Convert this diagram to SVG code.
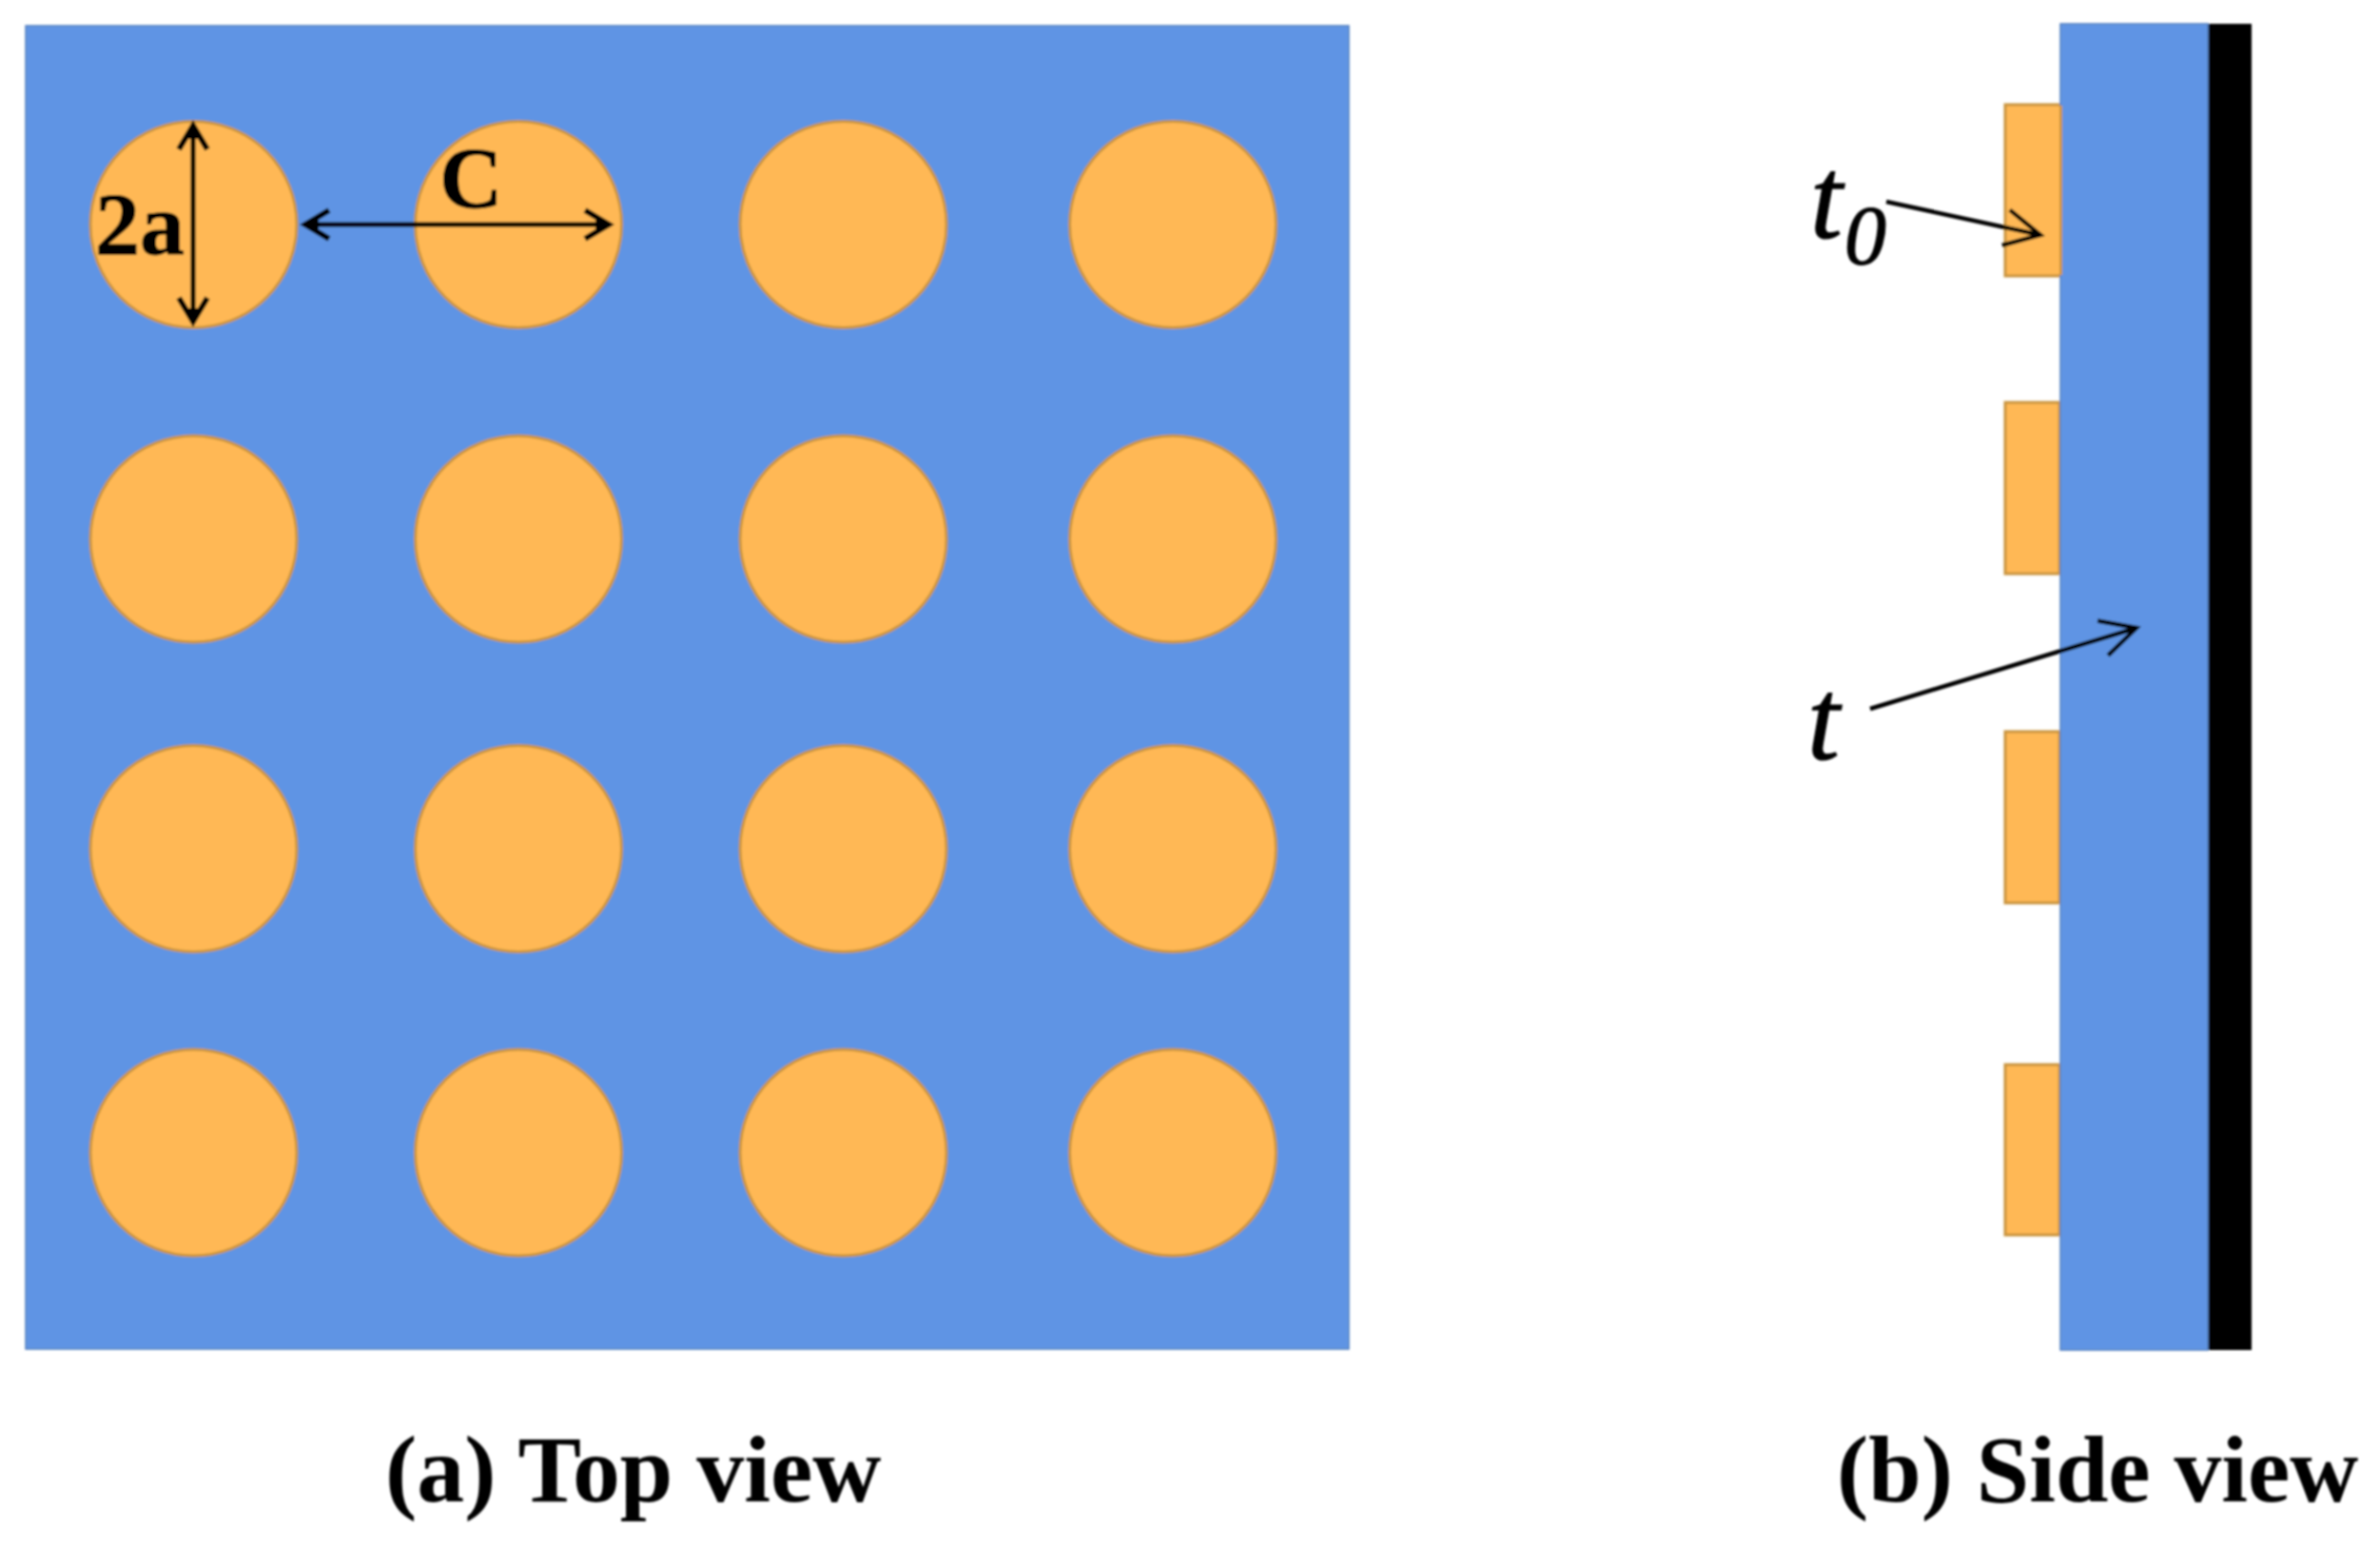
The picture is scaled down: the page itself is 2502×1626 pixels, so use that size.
<svg xmlns="http://www.w3.org/2000/svg" width="2502" height="1626" viewBox="0 0 2502 1626">
<style>
.blue{fill:#5e94e4;stroke:#5580bf;stroke-width:1.5}
.orange{fill:#ffb854;stroke:#c9943f;stroke-width:3}
.dim{fill:none;stroke:#000;stroke-width:5}
.thin{fill:none;stroke:#000;stroke-width:4.5}
text{font-family:"Liberation Serif","Times New Roman",serif;fill:#000}
.b{font-weight:700}
.i{font-style:italic;stroke:#000;stroke-width:1.2}
.cap{font-weight:700}
</style>
<defs>
<filter id="soft" x="-2%" y="-2%" width="104%" height="104%"><feGaussianBlur stdDeviation="0.9"/></filter>
<marker id="head" markerUnits="userSpaceOnUse" markerWidth="40" markerHeight="44" viewBox="-30 -22 40 44" refX="0" refY="0" orient="auto-start-reverse"><path d="M-27,-15 L-2,0 L-27,15" fill="none" stroke="#000" stroke-width="6"/><path d="M-16,-7 L0,0 L-16,7Z" fill="#000"/></marker>
<marker id="open" markerUnits="userSpaceOnUse" markerWidth="50" markerHeight="50" viewBox="-44 -25 50 50" refX="0" refY="0" orient="auto"><path d="M-37,-19 L0,0 L-37,19" fill="none" stroke="#000" stroke-width="4.5"/></marker>
</defs>
<rect width="2502" height="1626" fill="#fff"/>
<g filter="url(#soft)">
<g id="top-view">
<rect id="top-plate" class="blue" x="27" y="27" width="1391" height="1391"/>
<g id="patches">
<circle class="orange" cx="203.5" cy="236" r="108.5"/><circle class="orange" cx="545" cy="236" r="108.5"/><circle class="orange" cx="886.5" cy="236" r="108.5"/><circle class="orange" cx="1233" cy="236" r="108.5"/>
<circle class="orange" cx="203.5" cy="566.5" r="108.5"/><circle class="orange" cx="545" cy="566.5" r="108.5"/><circle class="orange" cx="886.5" cy="566.5" r="108.5"/><circle class="orange" cx="1233" cy="566.5" r="108.5"/>
<circle class="orange" cx="203.5" cy="892" r="108.5"/><circle class="orange" cx="545" cy="892" r="108.5"/><circle class="orange" cx="886.5" cy="892" r="108.5"/><circle class="orange" cx="1233" cy="892" r="108.5"/>
<circle class="orange" cx="203.5" cy="1211.5" r="108.5"/><circle class="orange" cx="545" cy="1211.5" r="108.5"/><circle class="orange" cx="886.5" cy="1211.5" r="108.5"/><circle class="orange" cx="1233" cy="1211.5" r="108.5"/>
</g>
</g>
<g id="side-view">
<rect id="side-black" x="2319" y="25" width="48" height="1394" fill="#000"/>
<rect id="side-patch-1" class="orange" x="2108" y="110" width="59" height="180"/>
<rect id="side-patch-2" class="orange" x="2108" y="423" width="57" height="180"/>
<rect id="side-patch-3" class="orange" x="2108" y="769" width="57" height="180"/>
<rect id="side-patch-4" class="orange" x="2108" y="1119" width="57" height="179"/>
<rect id="side-plate" class="blue" x="2166" y="25" width="155" height="1394"/>
<rect id="side-patch-1-edge" x="2165" y="111" width="3" height="178" fill="#c9943f"/>
</g>
<g id="connectors">
<path class="dim" d="M203,130V340" marker-start="url(#head)" marker-end="url(#head)"/>
<path class="dim" d="M319,236H642" marker-start="url(#head)" marker-end="url(#head)"/>
<path class="thin" d="M1983,212L2145,247" marker-end="url(#open)"/>
<path class="thin" d="M1966,745L2246,660" marker-end="url(#open)"/>
</g>
<g id="labels">
<text class="b" x="100" y="267" font-size="94" stroke="#000" stroke-width="1">2a</text>
<text class="b" x="462" y="218" font-size="92" stroke="#000" stroke-width="1">C</text>
<text class="i" x="1903" y="250" font-size="122">t</text>
<text class="i" x="1939" y="277" font-size="88" stroke-width="0">0</text>
<text class="i" x="1900" y="798" font-size="122">t</text>
<text class="cap" x="405" y="1578" font-size="99.8">(a) Top view</text>
<text class="cap" x="1931" y="1578" font-size="99.7">(b) Side view</text>
</g>
</g>
</svg>
